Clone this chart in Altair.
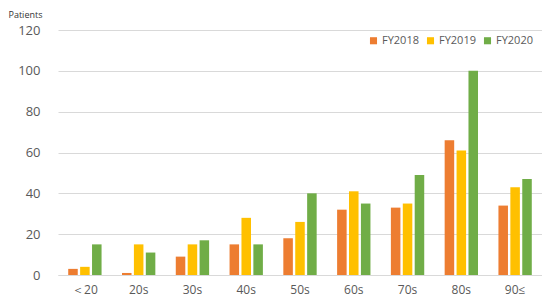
import altair as alt
import pandas as pd

categories = ["＜20", "20s", "30s", "40s", "50s", "60s", "70s", "80s", "90≤"]
series = ["FY2018", "FY2019", "FY2020"]
fy2018 = [3, 1, 9, 15, 18, 32, 33, 66, 34]
fy2019 = [4, 15, 15, 28, 26, 41, 35, 61, 43]
fy2020 = [15, 11, 17, 15, 40, 35, 49, 100, 47]
colors = ["#ED7D31", "#FFC000", "#70AD47"]

rows = []
for name, vals in zip(series, [fy2018, fy2019, fy2020]):
    for c, v in zip(categories, vals):
        rows.append({"age": c, "year": name, "patients": v})
df = pd.DataFrame(rows)

font = "Open Sans"

chart = alt.Chart(df).mark_bar().encode(
    x=alt.X("age:N", sort=categories,
            scale=alt.Scale(paddingInner=0.38, paddingOuter=0.19),
            axis=alt.Axis(title=None, labelAngle=0, ticks=False, domainColor="#d9d9d9",
                          labelColor="#595959", labelFontSize=12, labelPadding=9, labelFont=font)),
    xOffset=alt.XOffset("year:N", sort=series, scale=alt.Scale(paddingInner=0.2)),
    y=alt.Y("patients:Q", scale=alt.Scale(domain=[0, 120]),
            axis=alt.Axis(values=[0, 20, 40, 60, 80, 100, 120], title="Patients", titleAngle=0,
                          titleAlign="left", titleBaseline="middle", titleX=-50, titleY=-16,
                          titleFontSize=9, titleFontWeight="normal", titleColor="#333333", titleFont=font,
                          ticks=False, domain=False, gridColor="#d9d9d9",
                          labelColor="#595959", labelFontSize=13, labelPadding=18, labelFont=font)),
    color=alt.Color("year:N", sort=series, scale=alt.Scale(domain=series, range=colors),
                    legend=alt.Legend(title=None, orient="none", legendX=310, legendY=5,
                                      direction="horizontal", symbolType="square", symbolSize=50,
                                      symbolStrokeWidth=0, labelFontSize=11, labelColor="#595959",
                                      labelFont=font, columnPadding=6, labelOffset=3, padding=0)),
).properties(
    width=484, height=245,
    autosize=alt.AutoSizeParams(type="none"),
    padding={"left": 50, "top": 22, "right": 0, "bottom": 28},
).configure_view(stroke=None)

chart.save("out.html", embed_options={"renderer": "svg", "actions": False})
